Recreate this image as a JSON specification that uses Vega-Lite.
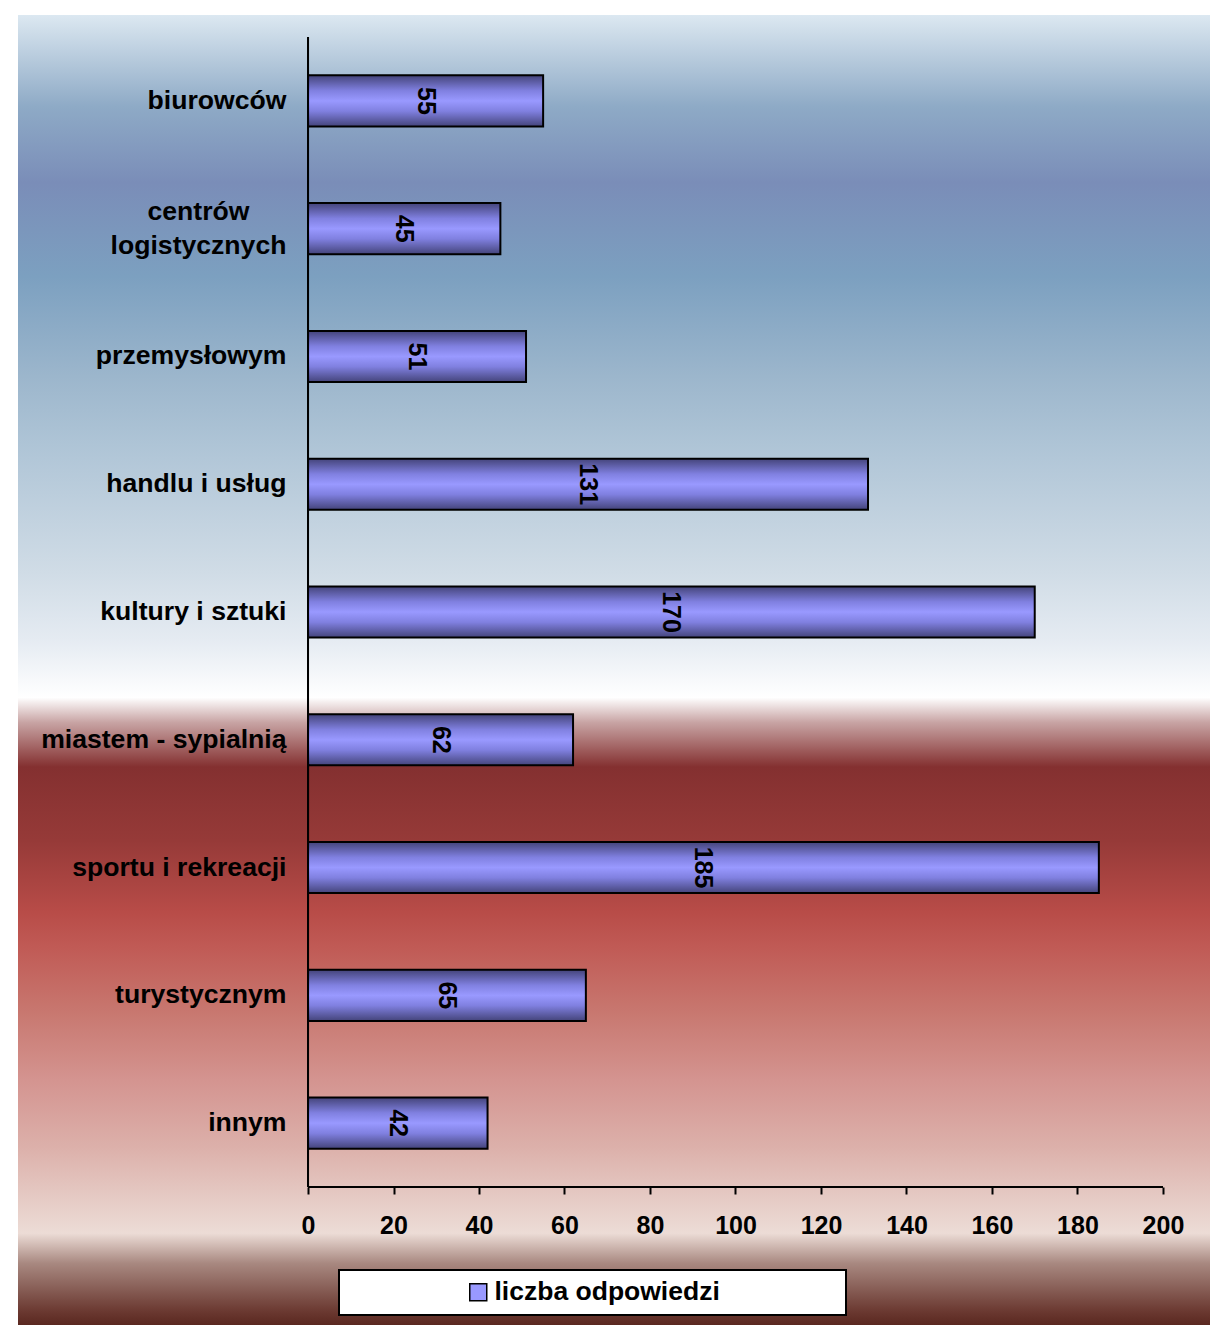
{
  "$schema": "https://vega.github.io/schema/vega-lite/v6.json",
  "width": 1192,
  "height": 1310,
  "autosize": {"type": "none"},
  "padding": {"left": 18, "top": 15, "right": 2, "bottom": 3},
  "background": "white",
  "view": {
    "stroke": null,
    "fill": {
      "gradient": "linear", "x1": 0, "y1": 0, "x2": 0, "y2": 1,
      "stops": [
        {"offset": 0.0, "color": "#dce8f1"},
        {"offset": 0.07, "color": "#8eaac6"},
        {"offset": 0.128, "color": "#7a8db8"},
        {"offset": 0.2, "color": "#7ca0c0"},
        {"offset": 0.276, "color": "#9cb6cc"},
        {"offset": 0.327, "color": "#aec4d6"},
        {"offset": 0.426, "color": "#d0dce6"},
        {"offset": 0.477, "color": "#e5ebf2"},
        {"offset": 0.521, "color": "#ffffff"},
        {"offset": 0.54, "color": "#c8a4a4"},
        {"offset": 0.574, "color": "#843030"},
        {"offset": 0.63, "color": "#963a38"},
        {"offset": 0.685, "color": "#b84c48"},
        {"offset": 0.711, "color": "#c05a55"},
        {"offset": 0.762, "color": "#c87870"},
        {"offset": 0.813, "color": "#d49490"},
        {"offset": 0.864, "color": "#dcb0aa"},
        {"offset": 0.93, "color": "#ecdcd6"},
        {"offset": 0.953, "color": "#a88880"},
        {"offset": 0.99, "color": "#6a3830"},
        {"offset": 1.0, "color": "#5a2820"}
      ]
    }
  },
  "config": {
    "font": "Liberation Sans"
  },
  "data": {
    "values": [
      {"cat": "biurowców", "value": 55},
      {"cat": "centrów logistycznych", "value": 45},
      {"cat": "przemysłowym", "value": 51},
      {"cat": "handlu i usług", "value": 131},
      {"cat": "kultury i sztuki", "value": 170},
      {"cat": "miastem - sypialnią", "value": 62},
      {"cat": "sportu i rekreacji", "value": 185},
      {"cat": "turystycznym", "value": 65},
      {"cat": "innym", "value": 42}
    ]
  },
  "resolve": {"scale": {"x": "independent"}, "axis": {"x": "independent"}},
  "layer": [
    {
      "mark": {
        "type": "bar",
        "height": {"band": 0.4},
        "stroke": "black",
        "strokeWidth": 2,
        "fill": {
          "gradient": "linear", "x1": 0, "y1": 0, "x2": 0, "y2": 1,
          "stops": [
            {"offset": 0, "color": "#44447a"},
            {"offset": 0.3, "color": "#8080e0"},
            {"offset": 0.5, "color": "#9999ff"},
            {"offset": 0.7, "color": "#8080e0"},
            {"offset": 1, "color": "#44447a"}
          ]
        }
      },
      "encoding": {
        "y": {
          "field": "cat", "type": "nominal", "sort": null,
          "scale": {"paddingInner": 0, "paddingOuter": 0.626, "align": 0.1375},
          "axis": {
            "title": null,
            "offset": -290,
            "domain": false,
            "ticks": false,
            "labelFont": "Liberation Sans",
            "labelFontSize": 26.6,
            "labelFontWeight": "bold",
            "labelColor": "black",
            "labelLineHeight": 34,
            "labelLimit": 400,
            "labelExpr": "datum.value === 'centrów logistycznych' ? ['centrów', 'logistycznych'] : datum.label",
            "labelAlign": {"condition": {"test": "datum.value === 'centrów logistycznych'", "value": "center"}, "value": "right"},
            "labelPadding": {"condition": {"test": "datum.value === 'centrów logistycznych'", "value": 110}, "value": 22},
            "labelOffset": {"condition": {"test": "datum.value === 'centrów logistycznych'", "value": -17}, "value": 0}
          }
        },
        "x": {
          "field": "value", "type": "quantitative",
          "scale": {"domain": [-67.84, 211.0], "nice": false, "zero": false},
          "axis": {
            "title": null,
            "offset": -138,
            "domain": false,
            "grid": false,
            "values": [0, 20, 40, 60, 80, 100, 120, 140, 160, 180, 200],
            "tickColor": "black",
            "tickWidth": 2,
            "tickSize": 7,
            "labelFont": "Liberation Sans",
            "labelFontSize": 25,
            "labelFontWeight": "bold",
            "labelColor": "black",
            "labelPadding": 19,
            "labelFlush": false,
            "labelOverlap": false
          }
        }
      }
    },
    {
      "mark": {"type": "rule", "color": "black", "strokeWidth": 2},
      "encoding": {
        "x": {"datum": 0, "type": "quantitative", "scale": {"domain": [-67.84, 211.0], "nice": false, "zero": false}, "axis": null},
        "y": {"datum": "biurowców", "type": "nominal", "bandPosition": 0},
        "y2": {"datum": "innym", "bandPosition": 1}
      }
    },
    {
      "mark": {"type": "rule", "color": "black", "strokeWidth": 2},
      "encoding": {
        "x": {"datum": 0, "type": "quantitative", "scale": {"domain": [-67.84, 211.0], "nice": false, "zero": false}, "axis": null},
        "x2": {"datum": 200},
        "y": {"datum": "innym", "type": "nominal", "bandPosition": 1}
      }
    },
    {
      "mark": {"type": "text", "angle": 90, "align": "center", "baseline": "middle", "font": "Liberation Sans", "fontSize": 25, "fontWeight": "bold", "color": "black"},
      "encoding": {
        "text": {"field": "value", "type": "quantitative"},
        "x": {"field": "value", "type": "quantitative", "scale": {"domain": [-135.68, 422.0], "nice": false, "zero": false}, "axis": null},
        "y": {"field": "cat", "type": "nominal", "sort": null}
      }
    },
    {
      "mark": {"type": "square", "opacity": 0},
      "encoding": {
        "color": {
          "datum": "liczba odpowiedzi", "type": "nominal",
          "scale": {"range": ["#9999ff"]},
          "legend": {
            "title": " ",
            "titleOrient": "right",
            "titlePadding": 117,
            "orient": "none",
            "legendX": 321,
            "legendY": 1255,
            "padding": 9,
            "strokeColor": "black",
            "fillColor": "white",
            "symbolType": "square",
            "symbolSize": 289,
            "symbolOpacity": 1,
            "symbolStrokeColor": "black",
            "symbolStrokeWidth": 1.5,
            "symbolOffset": 117,
            "labelOffset": 3,
            "labelFont": "Liberation Sans",
            "labelFontSize": 26.5,
            "labelFontWeight": "bold",
            "labelColor": "black",
            "labelLimit": 400,
            "encode": {"legend": {"update": {"strokeWidth": {"value": 2}}}}
          }
        }
      }
    }
  ]
}
